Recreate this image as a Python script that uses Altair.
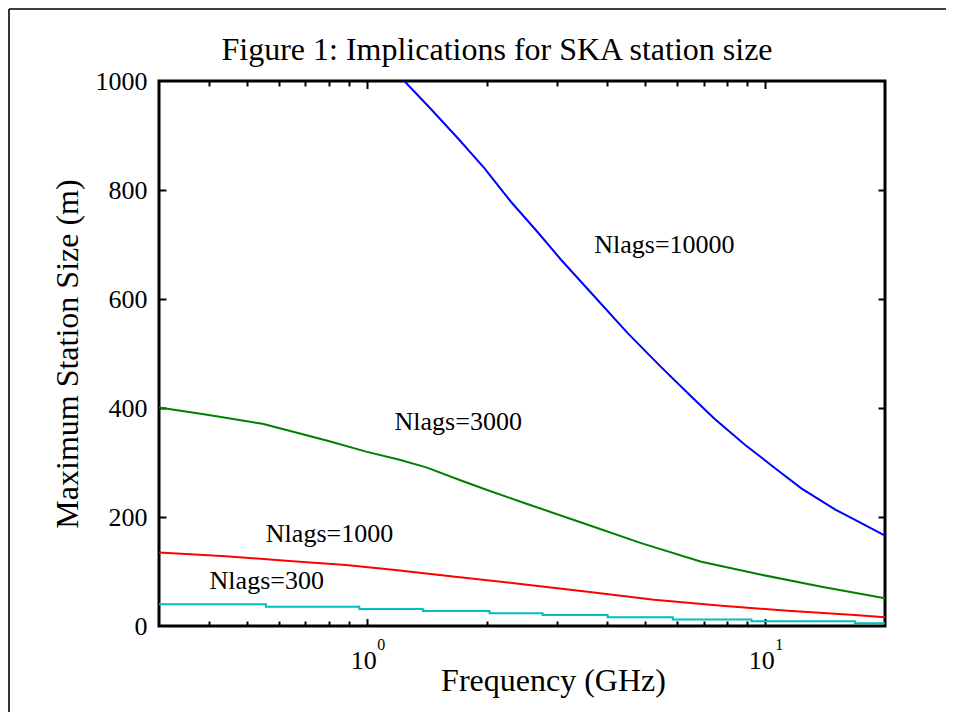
import altair as alt
import pandas as pd

# ---- data ----
blue_f = [1.24, 1.44, 1.69, 1.97, 2.30, 2.68, 3.07, 3.72, 4.52, 5.48, 6.52, 7.47, 8.88, 10.57, 12.35, 14.97, 16.5, 20]
blue_v = [1000, 950, 895, 840, 778, 723, 672, 605, 537, 475, 421, 380, 333, 290, 252, 214, 198, 166]

green_f = [0.3, 0.4, 0.546, 0.663, 0.804, 0.994, 1.206, 1.408, 1.708, 1.994, 2.43, 3.45, 4.88, 6.91, 9.79, 13.86, 20]
green_v = [401, 387, 371, 355, 339, 320, 305, 291, 268, 250, 228, 190, 152, 118, 94, 72, 51]

red_f = [0.3, 0.441, 0.65, 0.885, 1.16, 1.643, 2.43, 3.58, 5.26, 7.77, 11.4, 16.8, 20]
red_v = [135, 128, 119, 112, 103, 91, 77, 63, 48, 37, 28, 20, 16]

cyan_f = [0.3, 0.557, 0.956, 1.38, 2.03, 2.76, 4.02, 5.86, 9.24, 16.8, 20]
cyan_v = [40, 35.5, 31, 27.5, 23.5, 20, 16, 12, 8.5, 5, 5]

series_names = ["Nlags=10000", "Nlags=3000", "Nlags=1000", "Nlags=300"]
series_colors = ["#0000ff", "#008000", "#ff0000", "#00bfbf"]

label_f = [3.72, 1.172, 0.5566, 0.402]
label_v = [684, 360, 155, 67]

x_major = [1, 10]
x_minor = [0.4, 0.5, 0.6, 0.7, 0.8, 0.9, 2, 3, 4, 5, 6, 7, 8, 9]
x_exponents = ["0", "1"]
y_ticks = [0, 200, 400, 600, 800, 1000]

title_text = "Figure 1: Implications for SKA station size"
x_title = "Frequency (GHz)"
y_title = "Maximum Station Size (m)"

FONT = "Liberation Serif"
W, H = 726, 545

rows = []
for name, fs, vs in [(series_names[0], blue_f, blue_v),
                     (series_names[1], green_f, green_v),
                     (series_names[2], red_f, red_v)]:
    for f, v in zip(fs, vs):
        rows.append({"series": name, "f": f, "v": v})
df = pd.DataFrame(rows)
df_cyan = pd.DataFrame({"series": series_names[3], "f": cyan_f, "v": cyan_v})
df_all = pd.concat([df, df_cyan], ignore_index=True)

xscale = alt.Scale(type="log", domain=[0.3, 20], nice=False)
yscale = alt.Scale(domain=[0, 1000], nice=False)
cscale = alt.Scale(domain=series_names, range=series_colors)

main = alt.Chart(df).mark_line(strokeWidth=2, clip=True).encode(
    x=alt.X("f:Q", scale=xscale, axis=alt.Axis(
        orient="bottom", values=x_major, labelExpr="'10'", ticks=False, tickSize=0,
        domain=False, grid=False, labelFontSize=26, labelFont=FONT, labelPadding=42,
        labelBaseline="alphabetic", labelOffset=-4, labelColor="black",
        title=x_title, titleFont=FONT, titleFontSize=32, titleFontWeight="normal",
        titleX=394, titleY=64, titleBaseline="alphabetic", titleAlign="center", titleColor="black")),
    y=alt.Y("v:Q", scale=yscale, axis=alt.Axis(
        orient="left", values=y_ticks, format="d", ticks=False, tickSize=0, domain=False, grid=False,
        labelFontSize=26, labelFont=FONT, labelPadding=12, labelColor="black",
        labelBaseline="middle", labelAlign="right",
        title=y_title, titleFont=FONT, titleFontSize=32, titleFontWeight="normal",
        titleX=-82, titleY=272.5, titleAngle=270, titleBaseline="alphabetic",
        titleAlign="center", titleColor="black")),
    color=alt.Color("series:N", scale=cscale, legend=None),
)

cyan = alt.Chart(df_cyan).mark_line(strokeWidth=2, clip=True, interpolate="step-after").encode(
    x=alt.X("f:Q", scale=xscale, axis=None),
    y=alt.Y("v:Q", scale=yscale, axis=None),
    color=alt.Color("series:N", scale=cscale, legend=None),
)

def tick_layer(xaxis, yaxis):
    return alt.Chart(df_all).mark_point(opacity=0).encode(
        x=alt.X("f:Q", scale=xscale, axis=xaxis),
        y=alt.Y("v:Q", scale=yscale, axis=yaxis),
    )

def tick_axis(orient, values, size):
    return alt.Axis(orient=orient, values=values, offset=-size, tickSize=size, tickWidth=2,
                    tickColor="black", labels=False, domain=False, grid=False, title=None)

t1 = tick_layer(tick_axis("bottom", x_major, 7.5), tick_axis("left", y_ticks[1:-1], 7))
t2 = tick_layer(tick_axis("bottom", x_minor, 5), tick_axis("right", y_ticks[1:-1], 7))
t3 = tick_layer(tick_axis("top", x_major, 7.5), None)
t4 = tick_layer(tick_axis("top", x_minor, 5), None)

labels = alt.Chart(pd.DataFrame({"f": label_f, "v": label_v, "t": series_names})).mark_text(
    font=FONT, fontSize=26, align="left", baseline="alphabetic", color="black"
).encode(
    x=alt.X("f:Q", scale=xscale, axis=None),
    y=alt.Y("v:Q", scale=yscale, axis=None),
    text="t:N",
)

expo = alt.Chart(pd.DataFrame({"f": x_major, "e": x_exponents})).mark_text(
    font=FONT, fontSize=16, align="left", baseline="alphabetic", dx=10, dy=24, color="black"
).encode(
    x=alt.X("f:Q", scale=xscale, axis=None),
    y=alt.value(H),
    text="e:N",
)

title = alt.Chart(pd.DataFrame({"t": [title_text]})).mark_text(
    font=FONT, fontSize=32, align="center", baseline="alphabetic", color="black"
).encode(x=alt.value(338), y=alt.value(-21), text="t:N")

frame_v = alt.Chart(pd.DataFrame({"a": [0]})).mark_rule(color="black", strokeWidth=1.6).encode(
    x=alt.value(-150), y=alt.value(-72), y2=alt.value(700))
frame_h = alt.Chart(pd.DataFrame({"a": [0]})).mark_rule(color="black", strokeWidth=1.6).encode(
    x=alt.value(-150), x2=alt.value(800), y=alt.value(-72))

chart = alt.layer(main, cyan, t1, t2, t3, t4, labels, expo, title, frame_v, frame_h).resolve_axis(
    x="independent", y="independent"
).properties(
    width=W, height=H,
    background="white",
    autosize=alt.AutoSizeParams(type="none"),
    padding={"left": 151, "top": 73, "right": 61, "bottom": 86},
).configure_view(stroke="black", strokeWidth=3)

chart.save("out.html", embed_options={"renderer": "svg", "actions": False})
